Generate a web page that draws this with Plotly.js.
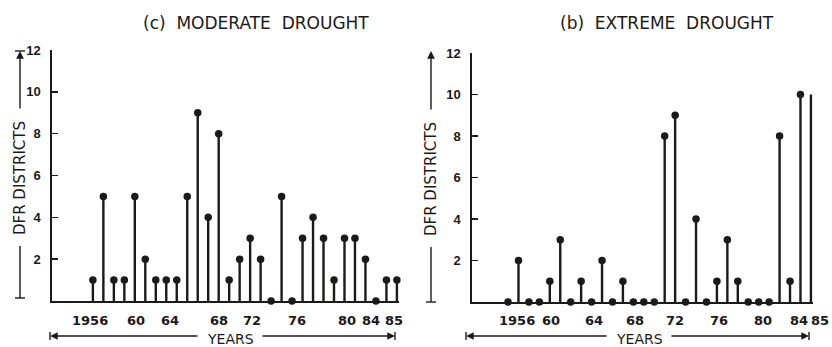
<!DOCTYPE html>
<html><head><meta charset="utf-8">
<script src="https://cdn.plot.ly/plotly-3.0.1.min.js"></script>
<style>html,body{margin:0;padding:0;background:#fff}#chart{width:832px;height:347px}</style>
</head><body><div id="chart"></div>
<script>
// ---- data ----
const years = [1956,1957,1958,1959,1960,1961,1962,1963,1964,1965,
               1966,1967,1968,1969,1970,1971,1972,1973,1974,1975,
               1976,1977,1978,1979,1980,1981,1982,1983,1984,1985];
const moderateDrought = [1,5,1,1,5,2,1,1,1,5,
                         9,4,8,1,2,3,2,0,5,0,
                         3,4,3,1,3,3,2,0,1,1];
const extremeDrought  = [0,2,0,0,1,3,0,1,0,2,
                         0,1,0,0,0,8,9,0,4,0,
                         1,3,1,0,0,0,8,1,10,10];
const extremeNoDot = [1985];
const tickYears  = [1956,1960,1964,1968,1972,1976,1980,1984,1985];
const tickLabels = ['1956','60','64','68','72','76','80','84','85'];
const yTickVals  = [2,4,6,8,10,12];
const panelTitles = ['(c)  MODERATE  DROUGHT', '(b)  EXTREME  DROUGHT'];
const yTitle = 'DFR DISTRICTS';
const xTitle = 'YEARS';

// ---- styling ----
const W = 832, H = 347;
const INK = '#1c1919';
const FONT = 'DejaVu Sans, sans-serif';
const FONT2 = 'Liberation Sans, Arial, sans-serif';
const px = x => x / W;
const py = y => 1 - y / H;
// hand-lettered label offsets (pixels) as in the original drawing
const leftLabelShift  = [-3, 1, -7, 0, -9, -6, 3, -15, -3];
const rightLabelShift = [9, 1, 2, 2, 0, 2, 4, -1, 9];

function stems(vals, xa, ya) {
  return {
    type: 'scatter', mode: 'lines', xaxis: xa, yaxis: ya, hoverinfo: 'skip',
    x: years.flatMap(y => [y, y, null]),
    y: vals.flatMap(v => [0, v, null]),
    line: {color: INK, width: 2.4}, cliponaxis: false, showlegend: false
  };
}
function dots(vals, xa, ya, skip) {
  const xs = [], ys = [];
  years.forEach((y, i) => { if (!skip.includes(y)) { xs.push(y); ys.push(vals[i]); } });
  return {
    type: 'scatter', mode: 'markers', xaxis: xa, yaxis: ya,
    x: xs, y: ys, marker: {color: INK, size: 7.5}, cliponaxis: false, showlegend: false
  };
}

const data = [
  stems(moderateDrought, 'x', 'y'), dots(moderateDrought, 'x', 'y', []),
  stems(extremeDrought, 'x2', 'y2'), dots(extremeDrought, 'x2', 'y2', extremeNoDot)
];

function xAxis(domain, range, anchor) {
  return {
    domain, range, anchor, showgrid: false, zeroline: false,
    showline: true, linecolor: INK, linewidth: 1.6,
    showticklabels: false, ticks: ''
  };
}
function yAxis(domain, anchor) {
  return {
    domain, range: [0, 12], anchor, showgrid: false, zeroline: false,
    showline: true, linecolor: INK, linewidth: 1.6,
    tickmode: 'array', tickvals: yTickVals, ticks: 'inside', ticklen: 6,
    tickwidth: 1.5, tickcolor: INK, ticklabelstandoff: 7,
    tickfont: {family: FONT2, size: 13, color: INK, weight: 'bold'}
  };
}

const annotations = [];
const shapes = [];
function text(t, x, y, size, extra) {
  annotations.push(Object.assign({
    text: t, x: px(x), y: py(y), xref: 'paper', yref: 'paper', showarrow: false,
    xanchor: 'center', yanchor: 'middle',
    font: {family: FONT, size, color: INK}
  }, extra || {}));
}
function arrow(hx, hy, tx, ty) {
  annotations.push({
    text: '', x: px(hx), y: py(hy), xref: 'paper', yref: 'paper',
    showarrow: true, ax: tx - hx, ay: ty - hy, arrowhead: 2, arrowsize: 1.1,
    arrowwidth: 1.4, arrowcolor: INK
  });
}
function seg(x0, y0, x1, y1) {
  shapes.push({type: 'line', xref: 'paper', yref: 'paper',
    x0: px(x0), y0: py(y0), x1: px(x1), y1: py(y1), line: {color: INK, width: 1.4}});
}

// x tick labels (placed on the data axis)
[['x', leftLabelShift], ['x2', rightLabelShift]].forEach(([xa, shifts]) => {
  tickYears.forEach((yr, i) => {
    annotations.push({
      text: tickLabels[i], x: yr, xref: xa, y: py(320), yref: 'paper',
      xshift: shifts[i], showarrow: false, xanchor: 'center', yanchor: 'middle',
      font: {family: FONT, size: 13, color: INK, weight: 'bold'}
    });
  });
});

// panel titles
text(panelTitles[0], 256, 23, 17);
text(panelTitles[1], 667, 23, 17);

// y titles with arrows
[[20, 51, 178, 298], [431, 51, 179, 302]].forEach(([x, top, mid, bot]) => {
  text(yTitle, x, mid, 15, {textangle: -90});
  arrow(x, top, x, mid - 68);
  seg(x, mid + 68, x, bot);
  seg(x - 5, bot, x + 5, bot);
});
seg(15, 51, 25, 51);

// x titles with arrows
[[50, 230, 395], [466, 639, 809]].forEach(([l, c, r]) => {
  text(xTitle, c, 338.5, 14);
  arrow(l, 336, c - 31, 336);
  arrow(r, 336, c + 31, 336);
  seg(l, 332, l, 340);
  seg(r, 332, r, 340);
});

const layout = {
  width: W, height: H, margin: {l: 0, r: 0, t: 0, b: 0},
  paper_bgcolor: '#ffffff', plot_bgcolor: 'rgba(0,0,0,0)',
  showlegend: false,
  xaxis:  xAxis([px(52), px(399)], [1952.1, 1985.2], 'y'),
  yaxis:  yAxis([py(301), py(50)], 'x'),
  xaxis2: xAxis([px(472), px(813)], [1952.55, 1985.2], 'y2'),
  yaxis2: yAxis([py(302), py(53)], 'x2'),
  annotations, shapes
};

Plotly.newPlot('chart', data, layout, {staticPlot: true, displayModeBar: false});
</script>
</body></html>
